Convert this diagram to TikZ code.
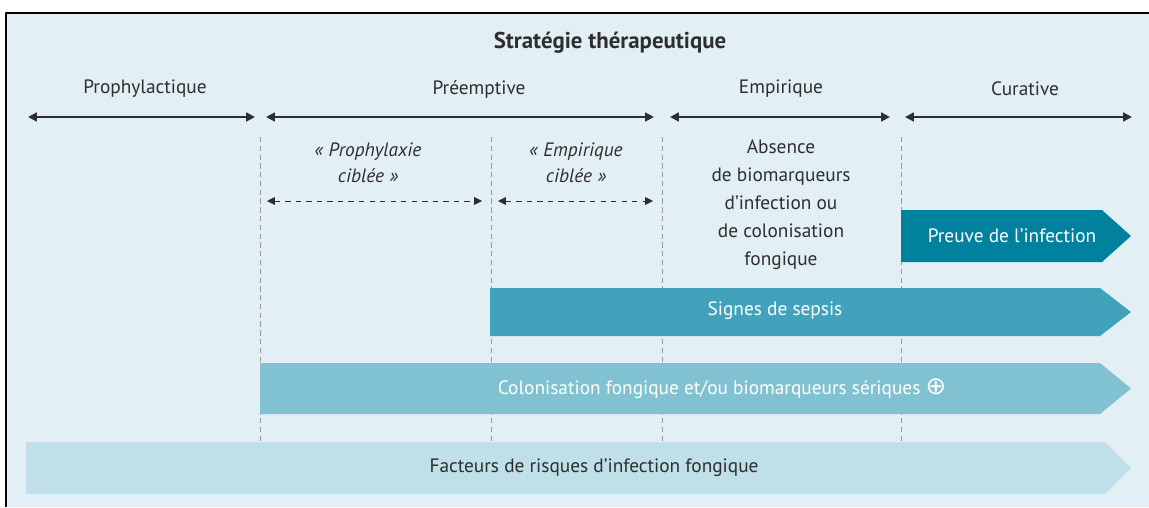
\documentclass[tikz,border=0pt]{standalone}
\usepackage{fontspec}
\setmainfont{PT Sans}
\newfontfamily\symb{DejaVu Sans}
\usetikzlibrary{arrows.meta}
\definecolor{fond}{HTML}{E2F0F5}
\definecolor{preuve}{HTML}{00829F}
\definecolor{sepsis}{HTML}{40A2BB}
\definecolor{colon}{HTML}{80C2D2}
\definecolor{facteurs}{HTML}{BFE0E8}
\definecolor{encre}{HTML}{2E2E2E}
\definecolor{grille}{HTML}{9A9A9A}
\tikzset{
  fleche/.style={<->, line width=1.1pt, encre},
  pointille/.style={<->, line width=0.5pt, dashed, encre, >={Stealth[inset=0pt,length=4.5pt,width=4.5pt]}},
  tirets/.style={grille, line width=0.5pt, dash pattern=on 3pt off 2pt},
  blanc/.style={text=white},
  cible/.style={font=\fontsize{11}{14.5}\selectfont\itshape, align=center}
}
\begin{document}
\begin{tikzpicture}[x=0.02cm, y=-0.02cm, >={Stealth[inset=0pt,length=5pt,width=5pt]}, font=\fontsize{11}{15.9}\selectfont, text=encre, line join=round]
			\def\yfl{117} \def\ypt{201}
			\def\xr{1100} \def\xt{1131}
			\useasboundingbox (0,0) rectangle (1149,507);
			\fill[fond] (6,13) rectangle (1149,507);
			\draw[line width=1.2pt] (6,507)--(6,13)--(1149,13);
			\node[font=\fontsize{13}{15}\selectfont\bfseries] (titre) at (610,43) {Stratégie thérapeutique};
			% periodes
			\node (prophy) at (145,89) {Prophylactique};
			\node (preemp) at (479,89) {Préemptive};
			\node (empir) at (781,89) {Empirique};
			\node (curat) at (1025,89) {Curative};
			\coordinate (p1) at (28,\yfl); \coordinate (p2) at (255,\yfl);
			\coordinate (q1) at (266,\yfl); \coordinate (q2) at (654,\yfl);
			\coordinate (e1) at (670,\yfl); \coordinate (e2) at (890,\yfl);
			\coordinate (c1) at (905,\yfl); \coordinate (c2) at (1132,\yfl);
			\draw[fleche] (p1)--(p2);
			\draw[fleche] (q1)--(q2);
			\draw[fleche] (e1)--(e2);
			\draw[fleche] (c1)--(c2);
			\foreach \x in {260,491,662,901} \draw[tirets] (\x,137)--(\x,442);
			% sous-periodes
			\node[cible] (pcible) at (368,163) {«~Prophylaxie\\ciblée~»};
			\node[cible] (ecible) at (576,163) {«~Empirique\\ciblée~»};
			\coordinate (pc1) at (267,\ypt); \coordinate (pc2) at (482,\ypt);
			\coordinate (ec1) at (498,\ypt); \coordinate (ec2) at (653,\ypt);
			\draw[pointille] (pc1)--(pc2);
			\draw[pointille] (ec1)--(ec2);
			\node[align=center] (absence) at (781,205) {Absence\\de biomarqueurs\\d’infection ou\\de colonisation\\fongique};
			% bandes
			\fill[preuve] (901,210)--(\xr+2,210)--(\xt,236)--(\xr+2,262)--(901,262)--cycle;
			\fill[sepsis] (490,288)--(\xr,288)--(\xt,312)--(\xr,336)--(490,336)--cycle;
			\fill[colon] (260,363)--(\xr,363)--(\xt,388.5)--(\xr,414)--(260,414)--cycle;
			\fill[facteurs] (26,442)--(\xr+5,442)--(\xt,468)--(\xr+5,494)--(26,494)--cycle;
			\node[blanc] (preuveT) at (1012,236) {Preuve de l’infection};
			\node[blanc] (sepsisT) at (775,311) {Signes de sepsis};
			\node[blanc] (colonT) at (722,389) {Colonisation fongique et/ou biomarqueurs sériques {\symb\fontsize{14}{15}\selectfont ⊕}};
			\node (facteursT) at (594,468) {Facteurs de risques d’infection fongique};
\end{tikzpicture}
\end{document}
